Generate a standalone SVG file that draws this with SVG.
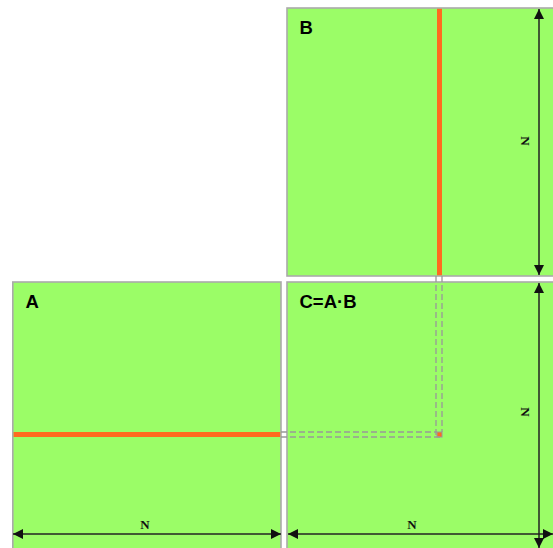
<svg xmlns="http://www.w3.org/2000/svg" width="553" height="548" viewBox="0 0 553 548">
<defs>
<style>
.mat{fill:#9bfd67;stroke:#aaaaaa;stroke-width:1.6}
.hl{fill:#ff6a1f}
.dash{stroke:#999999;stroke-width:1.3;stroke-dasharray:6 3;fill:none}
.dim{stroke:#222;stroke-width:1.5;fill:none;marker-start:url(#ah);marker-end:url(#ah)}
.lbl{font-family:"Liberation Sans",Arial,sans-serif;font-weight:bold;font-size:18.5px;fill:#000}
.n{font-family:"Liberation Serif","Times New Roman",serif;font-weight:bold;font-size:13px;fill:#111;text-anchor:middle}
</style>
<marker id="ah" viewBox="0 0 10 10" refX="10" refY="5" markerWidth="10" markerHeight="10" markerUnits="userSpaceOnUse" orient="auto-start-reverse">
<path d="M0,0 L10,5 L0,10 z" fill="#111"/>
</marker>
</defs>
<rect width="553" height="548" fill="#ffffff"/>
<g id="B">
<rect class="mat" x="287" y="8" width="280" height="268"/>
<rect class="hl" x="437" y="8.8" width="5" height="266.4"/>
<text class="lbl" x="299.5" y="34">B</text>
</g>
<g id="A">
<rect class="mat" x="12.8" y="282" width="268.2" height="280"/>
<rect class="hl" x="13.6" y="432" width="266.6" height="5"/>
<text class="lbl" x="25.5" y="307.5">A</text>
</g>
<g id="C">
<rect class="mat" x="287" y="282" width="280" height="280"/>
<rect x="437" y="432" width="5" height="5" fill="#ff6a1f" stroke="#999" stroke-width="1"/>
<text class="lbl" x="299.5" y="307.5">C=A·B</text>
</g>
<g id="connectors">
<path class="dash" d="M436,276 V437 M442,276 V432"/>
<path class="dash" d="M281,432 H437 M281,437 H442"/>
<line class="dim" x1="13" y1="534" x2="281" y2="534"/>
<line class="dim" x1="288" y1="534" x2="553" y2="534"/>
<line class="dim" x1="539" y1="9" x2="539" y2="275"/>
<line class="dim" x1="539" y1="283" x2="539" y2="548"/>
<text class="n" x="145" y="529">N</text>
<text class="n" x="412" y="529">N</text>
<text class="n" transform="translate(521,141) rotate(90)">N</text>
<text class="n" transform="translate(521,412) rotate(90)">N</text>
</g>
</svg>
